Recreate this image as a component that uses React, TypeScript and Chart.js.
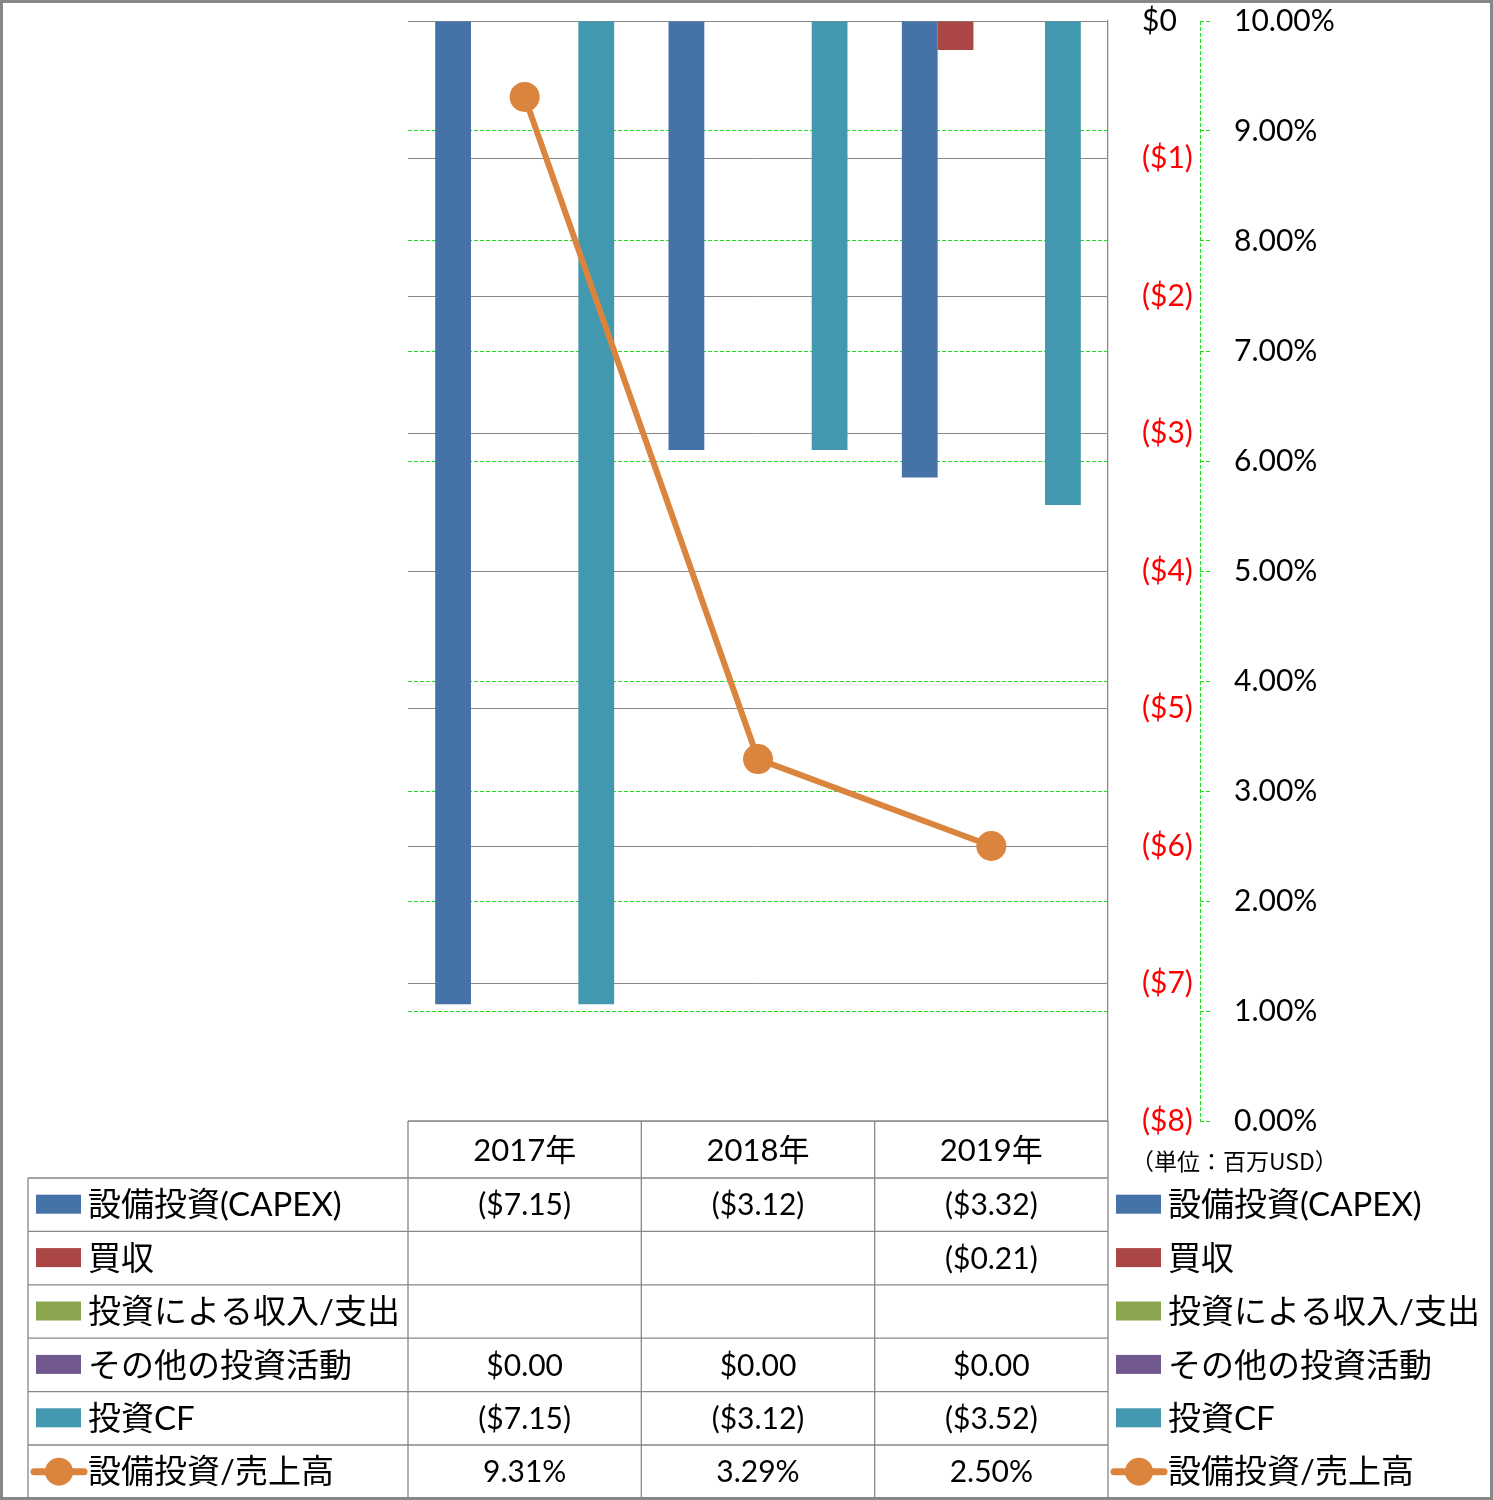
import React, { useEffect, useRef } from "react";
import { Chart, registerables } from "chart.js";

Chart.register(...registerables);

// ---- Data ----
const categories = ["2017年", "2018年", "2019年"];
const capex: (number | null)[] = [-7.15, -3.12, -3.32];
const acquisitions: (number | null)[] = [null, null, -0.21];
const investIncome: (number | null)[] = [null, null, null];
const otherInvest: (number | null)[] = [0, 0, 0];
const investCF: (number | null)[] = [-7.15, -3.12, -3.52];
const capexToSales: number[] = [9.31, 3.29, 2.5];

const seriesNames = [
  "設備投資(CAPEX)",
  "買収",
  "投資による収入/支出",
  "その他の投資活動",
  "投資CF",
  "設備投資/売上高",
];
const seriesColors = ["#4572A7", "#AA4643", "#89A54E", "#71588F", "#4198AF", "#DB843D"];
const unitLabel = "（単位：百万USD）";

const moneyMin = -8;
const moneyMax = 0;
const pctMin = 0;
const pctMax = 10;

const FONT_FAMILY = 'Lato, "Noto Sans CJK JP", sans-serif';

function fmtMoneyAxis(v: number): string {
  if (v < 0) return `($${Math.abs(v).toFixed(0)})`;
  return `$${v.toFixed(0)}`;
}
function fmtMoney(v: number | null): string {
  if (v === null || v === undefined) return "";
  if (v < 0) return `($${Math.abs(v).toFixed(2)})`;
  return `$${v.toFixed(2)}`;
}
function fmtPct(v: number | null): string {
  if (v === null || v === undefined) return "";
  return `${v.toFixed(2)}%`;
}

const GRID_GRAY = "#888888";
const GREEN = "#22dd22";

const tablePlugin = {
  id: "tablePlugin",
  afterDraw(chart: any) {
    const ctx: CanvasRenderingContext2D = chart.ctx;
    const ca = chart.chartArea;
    const xs = chart.scales.x;
    const y1 = chart.scales.y1;
    const n = categories.length;
    const colW = (ca.right - ca.left) / n;

    // dashed axis line of the percent axis
    ctx.save();
    ctx.strokeStyle = GREEN;
    ctx.lineWidth = 1;
    ctx.setLineDash([4, 2]);
    ctx.beginPath();
    ctx.moveTo(Math.round(y1.left) + 0.5, y1.top);
    ctx.lineTo(Math.round(y1.left) + 0.5, y1.bottom);
    ctx.stroke();
    ctx.restore();

    const headerTop = ca.bottom;
    const headerH = 57;
    const rowH = 53.4;
    const tableLeft = 28;
    const bottom = headerTop + headerH + rowH * 6;

    ctx.save();
    ctx.fillStyle = "#ffffff";
    ctx.fillRect(ca.left + 0.5, headerTop + 0.5, ca.right - ca.left - 1, bottom - headerTop);

    ctx.strokeStyle = GRID_GRAY;
    ctx.lineWidth = 1.3;
    ctx.setLineDash([]);
    ctx.beginPath();
    ctx.moveTo(ca.left, headerTop);
    ctx.lineTo(ca.right, headerTop);
    for (let r = 0; r <= 6; r++) {
      const yy = headerTop + headerH + rowH * r;
      ctx.moveTo(tableLeft, yy);
      ctx.lineTo(ca.right, yy);
    }
    for (let c = 0; c <= n; c++) {
      const xx = ca.left + colW * c;
      ctx.moveTo(xx, headerTop);
      ctx.lineTo(xx, bottom);
    }
    ctx.moveTo(tableLeft, headerTop + headerH);
    ctx.lineTo(tableLeft, bottom);
    ctx.stroke();

    ctx.fillStyle = "#000";
    ctx.textAlign = "center";
    ctx.textBaseline = "middle";
    ctx.font = `31px ${FONT_FAMILY}`;
    for (let c = 0; c < n; c++) {
      const cx = xs.getPixelForValue(c);
      ctx.fillText(categories[c], cx, headerTop + headerH / 2 + 1);
    }

    const rowsData: (number | null)[][] = [capex, acquisitions, investIncome, otherInvest, investCF];
    ctx.font = `30px ${FONT_FAMILY}`;
    for (let r = 0; r < 6; r++) {
      const cy = headerTop + headerH + rowH * r + rowH / 2 + 1;
      for (let c = 0; c < n; c++) {
        const cx = xs.getPixelForValue(c);
        const txt = r < 5 ? fmtMoney(rowsData[r][c]) : fmtPct(capexToSales[c]);
        ctx.fillText(txt, cx, cy);
      }
    }

    const drawKey = (x0: number, cy: number, r: number) => {
      const col = seriesColors[r];
      if (r < 5) {
        ctx.fillStyle = col;
        ctx.fillRect(x0, cy - 10, 45, 19);
      } else {
        ctx.strokeStyle = col;
        ctx.lineWidth = 7;
        ctx.lineCap = "round";
        ctx.beginPath();
        ctx.moveTo(x0 - 2, cy);
        ctx.lineTo(x0 + 48, cy);
        ctx.stroke();
        ctx.fillStyle = col;
        ctx.beginPath();
        ctx.arc(x0 + 23, cy, 14, 0, Math.PI * 2);
        ctx.fill();
      }
      ctx.fillStyle = "#000";
      ctx.textAlign = "left";
      ctx.font = `33px ${FONT_FAMILY}`;
      ctx.fillText(seriesNames[r], x0 + 52, cy + 1);
    };
    for (let r = 0; r < 6; r++) {
      const cy = headerTop + headerH + rowH * r + rowH / 2;
      drawKey(36, cy, r);
      drawKey(1116, cy, r);
    }

    ctx.fillStyle = "#000";
    ctx.textAlign = "left";
    ctx.font = `23px "Noto Sans CJK JP", ${FONT_FAMILY}`;
    ctx.fillText(unitLabel, 1131, headerTop + 40);

    ctx.strokeStyle = "#878787";
    ctx.lineWidth = 3;
    ctx.strokeRect(1.5, 1.5, chart.width - 3, chart.height - 3);
    ctx.restore();
  },
};

export default function App() {
  const canvasRef = useRef<HTMLCanvasElement | null>(null);

  useEffect(() => {
    if (!canvasRef.current) return;
    const barBase = {
      type: "bar" as const,
      yAxisID: "y",
      xAxisID: "x",
      borderWidth: 0,
      order: 1,
      barPercentage: 1,
      categoryPercentage: 0.767,
    };
    const chart = new Chart(canvasRef.current, {
      data: {
        labels: categories,
        datasets: [
          {
            type: "line",
            label: seriesNames[5],
            data: capexToSales,
            yAxisID: "y1",
            xAxisID: "x",
            borderColor: seriesColors[5],
            backgroundColor: seriesColors[5],
            borderWidth: 6,
            pointRadius: 15,
            pointBorderWidth: 0,
            pointBackgroundColor: seriesColors[5],
            order: 0,
          } as any,
          { ...barBase, label: seriesNames[0], data: capex, backgroundColor: seriesColors[0] },
          { ...barBase, label: seriesNames[1], data: acquisitions, backgroundColor: seriesColors[1] },
          { ...barBase, label: seriesNames[2], data: investIncome, backgroundColor: seriesColors[2] },
          { ...barBase, label: seriesNames[3], data: otherInvest, backgroundColor: seriesColors[3] },
          { ...barBase, label: seriesNames[4], data: investCF, backgroundColor: seriesColors[4] },
        ],
      },
      options: {
        responsive: false,
        animation: false,
        devicePixelRatio: 1,
        layout: { autoPadding: false, padding: { left: 408, top: 21, right: 0, bottom: 379 } },
        plugins: {
          legend: { display: false },
          tooltip: { enabled: false },
        },
        scales: {
          x: {
            type: "category",
            display: false,
            offset: true,
          },
          y: {
            type: "linear",
            position: "right",
            min: moneyMin,
            max: moneyMax,
            ticks: {
              stepSize: 1,
              padding: 34,
              font: { family: FONT_FAMILY, size: 30 },
              color: (c: any) => (c.tick && c.tick.value < 0 ? "#ff0000" : "#000000"),
              callback: (v: any) => fmtMoneyAxis(Number(v)),
            },
            grid: { color: GRID_GRAY, lineWidth: 1, drawTicks: false, z: 0 },
            border: { display: true, color: GRID_GRAY, width: 1.3 },
            afterFit: (s: any) => {
              s.width = 92;
              s.paddingTop = 0;
              s.paddingBottom = 0;
            },
          },
          y1: {
            type: "linear",
            position: "right",
            min: pctMin,
            max: pctMax,
            ticks: {
              stepSize: 1,
              padding: 22,
              font: { family: FONT_FAMILY, size: 30 },
              color: "#000000",
              callback: (v: any) => `${Number(v).toFixed(2)}%`,
            },
            grid: {
              color: GREEN,
              lineWidth: 1,
              drawTicks: true,
              tickLength: 12,
              tickColor: GREEN,
              tickBorderDash: [4, 2],
              z: -1,
            },
            border: { display: false, dash: [4, 2] },
            afterFit: (s: any) => {
              s.width = 293;
              s.paddingTop = 0;
              s.paddingBottom = 0;
            },
          },
        },
      } as any,
      plugins: [tablePlugin],
    });
    return () => chart.destroy();
  }, []);

  return (
    <div style={{ position: "absolute", left: 0, top: 0, width: 1493, height: 1500, background: "#fff" }}>
      <canvas ref={canvasRef} width={1493} height={1500} style={{ display: "block" }} />
    </div>
  );
}
